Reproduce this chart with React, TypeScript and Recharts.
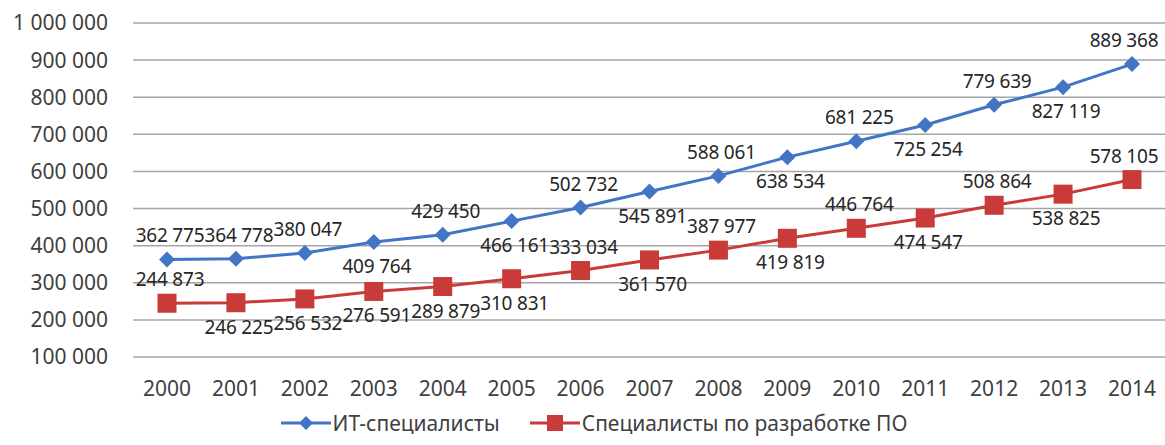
import { LineChart, Line, XAxis, YAxis, CartesianGrid, Legend, LabelList } from 'recharts';

const years = ['2000', '2001', '2002', '2003', '2004', '2005', '2006', '2007', '2008', '2009', '2010', '2011', '2012', '2013', '2014'];
const itSpecialists = [362775, 364778, 380047, 409764, 429450, 466161, 502732, 545891, 588061, 638534, 681225, 725254, 779639, 827119, 889368];
const softwareDevs = [244873, 246225, 256532, 276591, 289879, 310831, 333034, 361570, 387977, 419819, 446764, 474547, 508864, 538825, 578105];
const yTicks = [100000, 200000, 300000, 400000, 500000, 600000, 700000, 800000, 900000, 1000000];

// where each data label sits relative to its point
const itPlace = ['up', 'up', 'up', 'down', 'up', 'down', 'up', 'down', 'up', 'down', 'up', 'down', 'up', 'down', 'up'];
const poPlace = ['up', 'down', 'down', 'down', 'down', 'down', 'up', 'down', 'up', 'down', 'up', 'down', 'up', 'down', 'up'];

const data = years.map((year, i) => ({ year, it: itSpecialists[i], po: softwareDevs[i] }));

const BLUE = '#4275c4';
const RED = '#c93b38';
const FONT = '"Noto Sans", sans-serif';

const fmt = (v: number) => String(v).replace(/\B(?=(\d{3})+(?!\d))/g, ' ');

const makeLabel = (place: string[]) => (props: any) => {
  const { x, y, value, index } = props;
  const up = place[index] === 'up';
  const last = index === years.length - 1;
  return (
    <text
      x={last ? x - 8 : x + 3}
      y={up ? y - 17 : y + 31}
      textAnchor="middle"
      fontFamily={FONT}
      fontSize={19}
      letterSpacing={-0.2}
      fill="#262626"
    >
      {fmt(value)}
    </text>
  );
};

const Diamond = (props: any) => {
  const { cx, cy } = props;
  if (cx == null || cy == null) return null;
  const r = 8;
  return <path d={`M${cx},${cy - r} L${cx + r},${cy} L${cx},${cy + r} L${cx - r},${cy} Z`} fill={BLUE} />;
};

const Square = (props: any) => {
  const { cx, cy } = props;
  if (cx == null || cy == null) return null;
  const r = 9.5;
  return <rect x={cx - r} y={cy - r} width={r * 2} height={r * 2} fill={RED} />;
};

const renderLegend = (props: any) => {
  const items = props.payload || [];
  return (
    <div style={{ display: 'flex', justifyContent: 'center', gap: 30, paddingLeft: 22, fontFamily: FONT, fontSize: 21, color: '#404040' }}>
      {items.map((item: any) => {
        const isIt = item.dataKey === 'it';
        return (
          <div key={item.dataKey} style={{ display: 'flex', alignItems: 'center' }}>
            <svg width={50} height={20} style={{ marginRight: 2 }}>
              <line x1={0} y1={10} x2={50} y2={10} stroke={item.color} strokeWidth={3} />
              {isIt ? (
                <path d="M25,3 L32,10 L25,17 L18,10 Z" fill={item.color} />
              ) : (
                <rect x={17} y={2} width={16} height={16} fill={item.color} />
              )}
            </svg>
            <span>{item.value}</span>
          </div>
        );
      })}
    </div>
  );
};

export default function App() {
  return (
    <div style={{ position: 'absolute', left: 0, top: 0, background: '#fff' }}>
      <LineChart width={1166} height={445} data={data} margin={{ top: 23, right: 0, bottom: 6, left: 0 }}>
        <CartesianGrid vertical={false} stroke="#a6a6a6" strokeWidth={1.5} />
        <XAxis
          dataKey="year"
          axisLine={false}
          tickLine={false}
          tickSize={0}
          tickMargin={24}
          height={52}
          padding={{ left: 34, right: 34 }}
          tick={{ fontFamily: FONT, fontSize: 21, fill: '#404040' }}
        />
        <YAxis
          domain={[100000, 1000000]}
          ticks={yTicks}
          interval={0}
          width={133}
          axisLine={false}
          tickLine={false}
          tickSize={0}
          tickMargin={25}
          tickFormatter={fmt}
          tick={{ fontFamily: FONT, fontSize: 21, fill: '#404040' }}
        />
        <Legend verticalAlign="bottom" height={30} content={renderLegend} />
        <Line
          dataKey="it"
          name="ИТ-специалисты"
          stroke={BLUE}
          strokeWidth={3}
          dot={<Diamond />}
          activeDot={false}
          isAnimationActive={false}
        >
          <LabelList dataKey="it" content={makeLabel(itPlace)} />
        </Line>
        <Line
          dataKey="po"
          name="Специалисты по разработке ПО"
          stroke={RED}
          strokeWidth={3}
          dot={<Square />}
          activeDot={false}
          isAnimationActive={false}
        >
          <LabelList dataKey="po" content={makeLabel(poPlace)} />
        </Line>
      </LineChart>
    </div>
  );
}
